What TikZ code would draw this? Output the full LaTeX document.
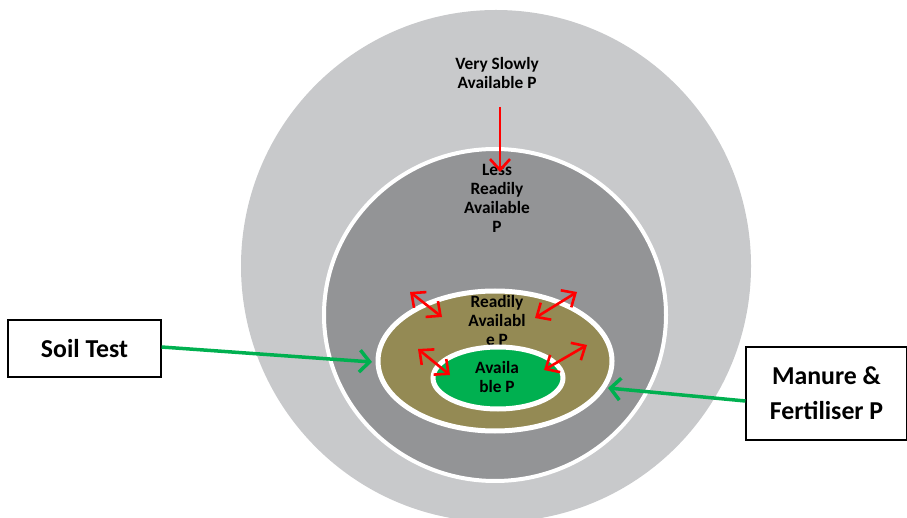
\documentclass[tikz,border=0pt]{standalone}
\usepackage{fontspec}
\setmainfont{Carlito}
\usetikzlibrary{arrows.meta}
\definecolor{lgray}{HTML}{C8C9CB}
\definecolor{mgray}{HTML}{939496}
\definecolor{olive}{HTML}{948A54}
\definecolor{pgreen}{HTML}{00B050}
\begin{document}
\begin{tikzpicture}[x=1pt,y=-1pt,
  lbl/.style={font=\bfseries\fontsize{17.3}{19}\selectfont, align=center, inner sep=0pt},
  boxlbl/.style={draw=black, line width=1.2pt, fill=white, font=\bfseries\fontsize{25.8}{35}\selectfont, align=center},
  redarr/.style={draw=red, line width=2.6pt, -{Straight Barb[length=11pt,width=20pt,line width=2.6pt]}},
  reddbl/.style={draw=red, line width=2.6pt, {Straight Barb[length=11pt,width=20pt,line width=2.6pt]}-{Straight Barb[length=11pt,width=20pt,line width=2.6pt]}},
  grnarr/.style={draw=pgreen, line width=3.5pt, -{Straight Barb[length=10pt,width=22pt,line width=3.5pt]}}]
\useasboundingbox (0,0) rectangle (907,518);
\begin{scope}
\clip (0,0) rectangle (907,518);
\fill[lgray] (496,266) ellipse [x radius=255, y radius=256];
\fill[mgray, draw=white, line width=4pt] (495,315) ellipse [x radius=171, y radius=166];
\fill[olive, draw=white, line width=5pt] (495,361) ellipse [x radius=117, y radius=70];
\end{scope}
\node[lbl] (vs) at (497,73) {Very Slowly\\Available P};
\node[lbl] (lr) at (497,198) {Less\\Readily\\Available\\P};
\node[lbl] (ra) at (497,320) {Readily\\Availabl\\e P};
\fill[pgreen, draw=white, line width=5pt] (498,378) ellipse [x radius=65, y radius=31];
\node[lbl] (av) at (497,377) {Availa\\ble P};
\node[boxlbl, minimum width=153pt, minimum height=57pt] (soil) at (84.5,348.5) {Soil Test};
\node[boxlbl, minimum width=161pt, minimum height=93pt] (man) at (826.5,393.5) {Manure \&\\Fertiliser P};
\coordinate (vsEnd) at (500,172);
\coordinate (vsStart) at (500,107);
\draw[redarr] (vsStart) -- (vsEnd);
\coordinate (a1) at (410,292); \coordinate (b1) at (442,317);
\coordinate (a2) at (577,292); \coordinate (b2) at (535,318);
\coordinate (a3) at (418,349); \coordinate (b3) at (450,375);
\coordinate (a4) at (587,345); \coordinate (b4) at (544,370);
\draw[reddbl] (a1) -- (b1);
\draw[reddbl] (a2) -- (b2);
\draw[reddbl] (a3) -- (b3);
\draw[reddbl] (a4) -- (b4);
\coordinate (soilEnd) at (372,362);
\coordinate (manEnd) at (608,388);
\draw[grnarr] (soil.east |- 0,347) -- (soilEnd);
\draw[grnarr] (man.west |- 0,401) -- (manEnd);
\end{tikzpicture}
\end{document}
